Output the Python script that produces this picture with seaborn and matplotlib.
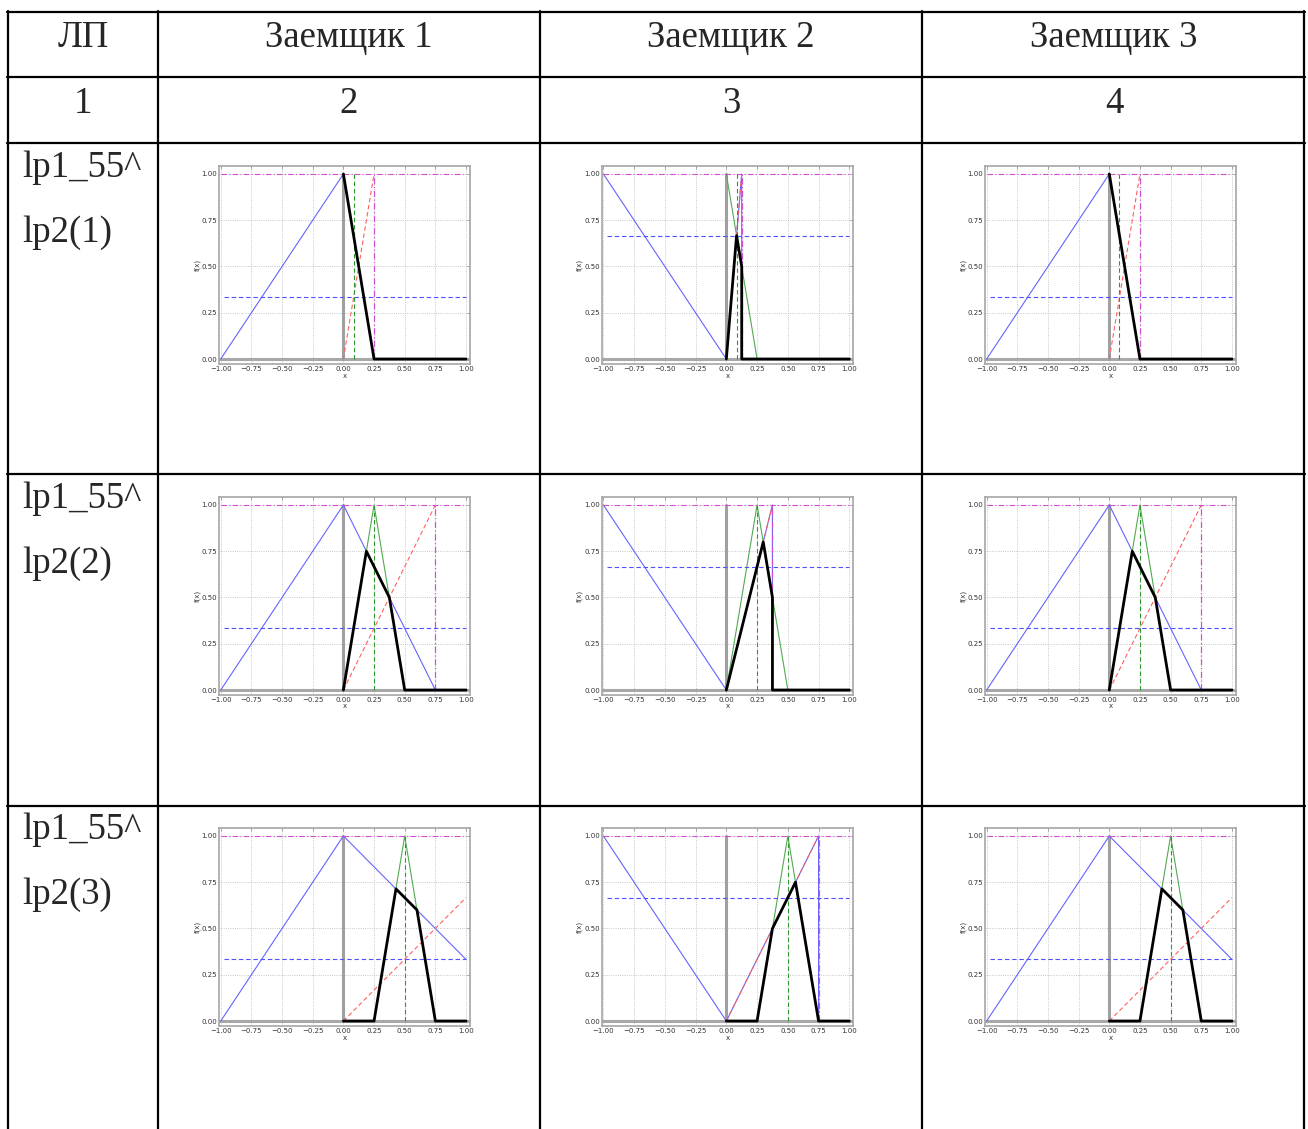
import matplotlib
matplotlib.use("Agg")
import matplotlib.pyplot as plt
from matplotlib.lines import Line2D
from matplotlib.ticker import FuncFormatter, FixedLocator
import pandas as pd
import seaborn as sns

W, H = 1308, 1129

# ---- table text ----
header_labels = ["ЛП", "Заемщик 1", "Заемщик 2", "Заемщик 3"]
column_numbers = ["1", "2", "3", "4"]
rule_top = ["lp1_55^", "lp1_55^", "lp1_55^"]
rule_bottom = ["lp2(1)", "lp2(2)", "lp2(3)"]

# ---- consequent term lp2 (green triangle), same for every borrower ----
green_x = [[0, 0.25], [0, 0.25, 0.5], [0.25, 0.5, 0.75]]
green_y = [[1, 0], [0, 1, 0], [0, 1, 0]]

# ---- borrower 1 / borrower 3 ----
b1_blue_x = [[-1, 0, 0.25], [-1, 0, 0.75], [-1, 0, 1.0]]
b1_blue_y = [[0, 1, 0], [0, 1, 0], [0, 1, 0.333]]
b1_red_x = [[0, 0.25], [0, 0.75], [0, 1.0]]
b1_red_y = [[0, 1], [0, 1], [0, 0.667]]
b1_limit = [0.25, 0.75, None]
b1_level = 0.333
b1_result_x = [[0, 0.25, 1.0],
               [0, 0.1875, 0.375, 0.5, 1.0],
               [0, 0.25, 0.4286, 0.6, 0.75, 1.0]]
b1_result_y = [[1, 0, 0],
               [0, 0.75, 0.5, 0, 0],
               [0, 0, 0.714, 0.6, 0, 0]]
b1_centroid = [0.083, 0.25, 0.5]

# ---- borrower 2 ----
b2_blue_x = [[-1, 0, 0.125, 0.125], [-1, 0, 0.375, 0.375], [-1, 0, 0.75, 0.75]]
b2_blue_y = [[1, 0, 1, 0], [1, 0, 1, 0], [1, 0, 1, 0]]
b2_red_x = [[0, 0.125], [0, 0.375], [0, 0.75]]
b2_red_y = [[0, 1], [0, 1], [0, 1]]
b2_limit = [0.125, 0.375, 0.75]
b2_level = 0.667
b2_result_x = [[0, 0.0833, 0.125, 0.125, 1.0],
               [0, 0.3, 0.375, 0.375, 1.0],
               [0, 0.25, 0.375, 0.5625, 0.75, 1.0]]
b2_result_y = [[0, 0.667, 0.5, 0, 0],
               [0, 0.8, 0.5, 0, 0],
               [0, 0, 0.5, 0.75, 0, 0]]
b2_centroid = [0.083, 0.25, 0.5]

borrowers = [
    (b1_blue_x, b1_blue_y, b1_red_x, b1_red_y, b1_limit, b1_level, b1_result_x, b1_result_y, b1_centroid),
    (b2_blue_x, b2_blue_y, b2_red_x, b2_red_y, b2_limit, b2_level, b2_result_x, b2_result_y, b2_centroid),
    (b1_blue_x, b1_blue_y, b1_red_x, b1_red_y, b1_limit, b1_level, b1_result_x, b1_result_y, b1_centroid),
]

x_ticks = [-1.0, -0.75, -0.5, -0.25, 0.0, 0.25, 0.5, 0.75, 1.0]
y_ticks = [0.0, 0.25, 0.5, 0.75, 1.0]

sns.set_style("white")
plt.rcParams["font.family"] = ["DejaVu Sans"]

fig = plt.figure(figsize=(W / 100, H / 100), dpi=100)
fig.patch.set_facecolor("white")

DASH = (0, (4, 2.5))
DASHDOT = (0, (5, 2, 1, 2))


def px_rect(left, top, right, bottom):
    return [left / W, 1 - bottom / H, (right - left) / W, (bottom - top) / H]


def line(ax, xs, ys, color, lw, ls="-", z=2):
    df = pd.DataFrame({"x": [float(v) for v in xs], "y": [float(v) for v in ys]})
    n_before = len(ax.lines)
    sns.lineplot(data=df, x="x", y="y", ax=ax, sort=False, estimator=None,
                 color=color, linewidth=lw, zorder=z)
    for ln in ax.lines[n_before:]:
        ln.set_linestyle(ls)


fmt = FuncFormatter(lambda v, p: f"{v:.2f}".replace("-", "\u2212"))

col_spans = [(219.4, 469.7), (602.0, 853.0), (985.3, 1235.6)]
row_spans = [(166.0, 364.0), (497.0, 695.0), (828.0, 1026.0)]

for r, (top, bottom) in enumerate(row_spans):
    for c, (left, right) in enumerate(col_spans):
        bx, by, rx, ry, lims, lev, ox, oy, cen = borrowers[c]
        lim = lims[r]
        ax = fig.add_axes(px_rect(left, top, right, bottom))
        ax.set_facecolor("white")

        # reference axes lines
        ax.axhline(0, color="#a8a8a8", linewidth=2.2, zorder=1)
        line(ax, [0, 0], [0, 1], "#a0a0a0", 2.2, z=1)

        # input term, consequent and bounds
        line(ax, bx[r], by[r], "#6464ff", 0.8)
        line(ax, green_x[r], green_y[r], "#52aa52", 0.8)
        line(ax, rx[r], ry[r], "#ff6060", 0.8, DASH, 3)
        line(ax, [-1, 1], [1, 1], "#d050d0", 0.8, DASHDOT, 3)
        if lim is not None:
            line(ax, [lim, lim], [0, 1], "#d050d0", 0.9, DASHDOT, 3)
        line(ax, [-0.97, 1.0], [lev, lev], "#5050ff", 0.8, DASH, 3)
        line(ax, [cen[r], cen[r]], [0, 1], "#2a9a2a", 0.8, DASH, 3)

        # aggregated output
        line(ax, ox[r], oy[r], "black", 2.0, "-", 5)

        ax.set_xlim(-1.011, 1.03)
        ax.set_ylim(-0.027, 1.043)
        ax.xaxis.set_major_locator(FixedLocator(x_ticks))
        ax.yaxis.set_major_locator(FixedLocator(y_ticks))
        ax.xaxis.set_major_formatter(fmt)
        ax.yaxis.set_major_formatter(fmt)
        ax.grid(True, color="#b5b5b5", linestyle=":", linewidth=0.6)
        ax.set_axisbelow(True)
        ax.tick_params(axis="both", which="both", direction="in", length=2,
                       width=0.5, color="#888888", labelsize=5,
                       labelcolor="#333333", pad=1.5, top=True, right=True)
        for s in ax.spines.values():
            s.set_color("#a5a5a5")
            s.set_linewidth(1.2)
        ax.set_xlabel("x", fontsize=5, color="#333333", labelpad=0.3)
        ax.set_ylabel("f(x)", fontsize=5, color="#333333", labelpad=0.8)

# ---- table grid ----
tlw = 1.6
h_lines = [12, 77, 143, 474, 806]
v_lines = [8, 158, 540, 922, 1304]
for y in h_lines:
    fig.add_artist(Line2D([7 / W, 1305 / W], [1 - y / H, 1 - y / H],
                          color="black", linewidth=tlw))
for x in v_lines:
    fig.add_artist(Line2D([x / W, x / W], [1 - 11 / H, 0],
                          color="black", linewidth=tlw))

serif = ["Liberation Serif", "DejaVu Serif"]
fs = 26.5
col_centers = [83, 349, 731, 1114]
for cx, lab, num in zip(col_centers, header_labels, column_numbers):
    fig.text(cx / W, 1 - 47 / H, lab, ha="center", va="baseline",
             fontsize=fs, family=serif)
    fig.text(cx / W, 1 - 113 / H, num, ha="center", va="baseline",
             fontsize=fs, family=serif)

for r in range(3):
    base = 177 + r * 331
    fig.text(22 / W, 1 - base / H, rule_top[r], ha="left", va="baseline",
             fontsize=fs, family=serif)
    fig.text(22 / W, 1 - (base + 65) / H, rule_bottom[r], ha="left",
             va="baseline", fontsize=fs, family=serif)

fig.savefig("out.png", dpi=100, facecolor="white")
